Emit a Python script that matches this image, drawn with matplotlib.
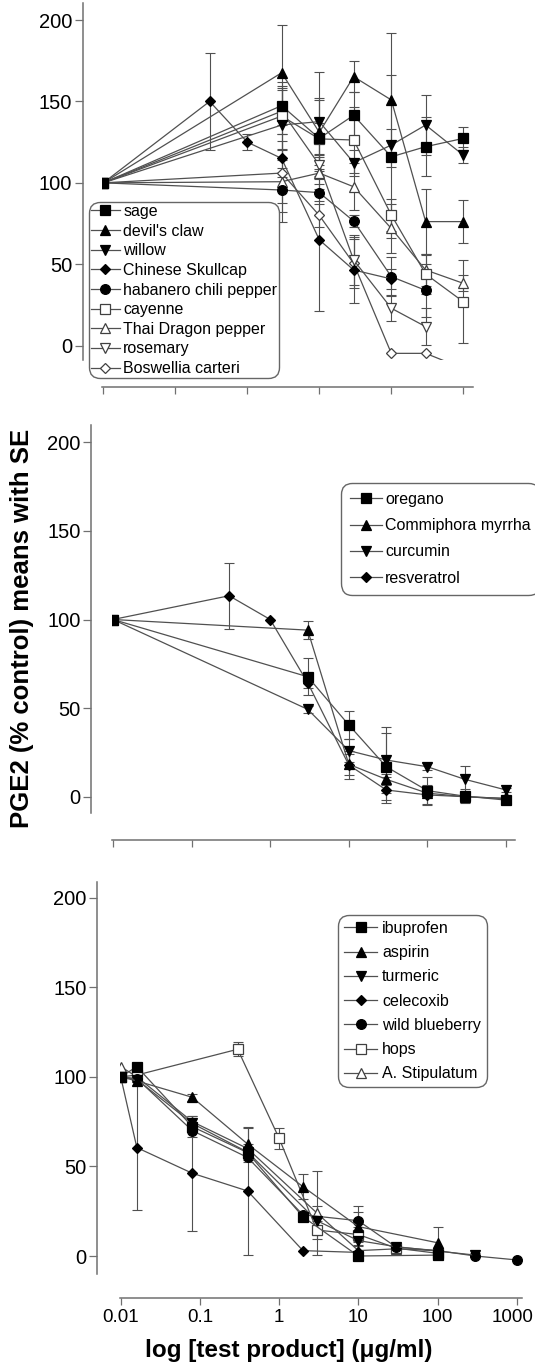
import numpy as np
import matplotlib.pyplot as plt
from matplotlib.ticker import FixedLocator, NullLocator, NullFormatter
from matplotlib.transforms import ScaledTranslation

plt.rcParams['font.family'] = ['Liberation Sans', 'DejaVu Sans']

nan = np.nan

# ---- panel 1: herbs and peppers
conc1 = [0.01, 0.3, 1, 3, 10, 30, 100, 300, 1000]
names1 = ['sage', "devil's claw", 'willow', 'Chinese Skullcap', 'habanero chili pepper',
          'cayenne', 'Thai Dragon pepper', 'rosemary', 'Boswellia carteri']
mean1 = [
    [100, nan, nan, 147.4, 127.3, 141.5, 116.0, 122.2, 127.3],
    [100, nan, nan, 167.6, 131.0, 165.2, 150.9, 76.2, 76.2],
    [100, nan, nan, 135.5, 137.6, 112.4, 123.2, 135.5, 117.0],
    [100, 150.0, 125.0, 115.0, 65.0, 46.5, 41.0, nan, nan],
    [100, nan, nan, 95.6, 94.0, 76.5, 42.4, 34.0, nan],
    [100, nan, nan, 141.0, 127.0, 126.3, 80.3, 44.0, 27.0],
    [100, nan, nan, 100.7, 106.0, 97.6, 72.0, 46.5, 38.3],
    [100, nan, nan, 144.0, 111.0, 52.6, 23.0, 11.7, nan],
    [100, nan, nan, 106.0, 80.0, 50.5, -4.7, -4.7, -14.0],
]
se1 = [
    [nan, nan, nan, 12, 25, 14, 50, 18, 7],
    [nan, nan, nan, 29.3, 20, 9.6, 41, 20, 13.3],
    [nan, nan, nan, 21.5, 30.4, 8, 10, 18.5, 5],
    [nan, 29.6, 5, 6, 43.7, 20, 6, nan, nan],
    [nan, nan, nan, 8, 5, 3.8, 12, 16.4, nan],
    [nan, nan, nan, 21, 10, 20, 10, 12, 25.5],
    [nan, nan, nan, 25, 10, 14.3, 15, 10, 5],
    [nan, nan, nan, 14, 7, 15.4, 8, 11.3, nan],
    [nan, nan, nan, 24, 7, 15, nan, nan, nan],
]

# ---- panel 2: oregano and friends
conc2 = [0.01, 0.3, 1, 3, 10, 30, 100, 300, 1000]
names2 = ['oregano', 'Commiphora myrrha', 'curcumin', 'resveratrol']
mean2 = [
    [100, nan, nan, 67.7, 40.5, 16.9, 3.4, 0.3, -1.9],
    [100, nan, nan, 94.0, 18.3, 9.8, 2.0, 0.0, -1.0],
    [100, nan, nan, 49.3, 26.0, 20.7, 16.9, 9.8, 3.8],
    [100, 113.4, 100.0, 64.3, 17.9, 3.8, 1.0, 0.0, -1.0],
]
se2 = [
    [nan, nan, nan, 10.4, 8, 19, 7.5, 4, 1],
    [nan, nan, nan, 5, 6, 3, 2, 1, 1],
    [nan, nan, nan, 2, 6.4, 18.5, 2, 7.5, 1],
    [nan, 18.5, nan, 3, 8, 7.5, 5.7, 1, 1],
]

# ---- panel 3: drugs and references
conc3 = [0.01, 0.016, 0.08, 0.3, 0.4, 1, 2, 3, 10, 30, 100, 300, 1000]
names3 = ['ibuprofen', 'aspirin', 'turmeric', 'celecoxib', 'wild blueberry', 'hops', 'A. Stipulatum']
mean3 = [
    [100, 105.7, 72.2, nan, 57.7, nan, 21.9, nan, 0.0, nan, 0.5, nan, nan],
    [100, 97.7, 88.6, nan, 62.5, nan, 38.7, nan, 16.4, nan, 7.4, nan, nan],
    [100, 98.5, 74.0, nan, 58.0, nan, nan, 19.7, 8.6, 5.2, nan, 0.5, nan],
    [100, 60.5, 46.2, nan, 36.3, nan, 3.0, nan, 2.0, nan, nan, nan, nan],
    [100, 99.0, 70.0, nan, 55.0, nan, 23.0, nan, 19.7, 5.0, 3.0, 0.0, -2.2],
    [100, 101.0, nan, 115.4, nan, 65.7, nan, 14.5, 12.0, 4.4, 1.5, nan, nan],
    [105.7, 100.0, 75.0, nan, 60.0, nan, nan, 24.0, 3.0, 4.0, 3.0, nan, nan],
]
se3 = [
    [nan, nan, 6, nan, 5, nan, 2, nan, 1, nan, 1, nan, nan],
    [nan, nan, 2, nan, 9, nan, 7, nan, 8, nan, 9, nan, nan],
    [nan, nan, nan, nan, nan, nan, nan, 8, 3, 2, nan, 1, nan],
    [nan, 35, 32, nan, 35.7, nan, nan, nan, nan, nan, nan, nan, nan],
    [nan, nan, nan, nan, nan, nan, nan, nan, 8, 2, nan, nan, nan],
    [nan, nan, nan, 4, nan, 6, nan, 5, 4, 2, nan, nan, nan],
    [nan, nan, nan, nan, nan, nan, nan, 23.4, 3, nan, nan, nan, nan],
]

styles1 = [('s', True), ('^', True), ('v', True), ('D', True), ('o', True),
           ('s', False), ('^', False), ('v', False), ('D', False)]
styles2 = [('s', True), ('^', True), ('v', True), ('D', True)]
styles3 = [('s', True), ('^', True), ('v', True), ('D', True), ('o', True),
           ('s', False), ('^', False)]

msize = {'s': 6.8, '^': 7.8, 'v': 7.8, 'D': 5.4, 'o': 7.0}
LINE = '#505050'
AXC = '#707070'
LEGFONT = 11.5

W, H = 535, 1365
fig = plt.figure(figsize=(W / 100, H / 100), dpi=100)


def make_axes(x0, x1, y0, y1, yspine_x, xspine_y, x01, decade, y200, y0px):
    # pixel geometry -> figure fractions and limits
    ax = fig.add_axes([x0 / W, 1 - y1 / H, (x1 - x0) / W, (y1 - y0) / H])
    ax.set_xscale('log')
    ax.set_xlim(10 ** (-2 - (x01 - x0) / decade), 10 ** (-2 + (x1 - x01) / decade))
    ppu = (y0px - y200) / 200
    ax.set_ylim(-(y1 - y0px) / ppu, 200 + (y200 - y0) / ppu)
    for s in ['top', 'right']:
        ax.spines[s].set_visible(False)
    ax.spines['left'].set_position(('outward', (x0 - yspine_x) * 0.72))
    ax.spines['bottom'].set_position(('outward', (xspine_y - y1) * 0.72))
    for s in ['left', 'bottom']:
        ax.spines[s].set_color(AXC)
        ax.spines[s].set_linewidth(1.1)
    ax.yaxis.set_major_locator(FixedLocator([0, 50, 100, 150, 200]))
    ax.xaxis.set_major_locator(FixedLocator([0.01, 0.1, 1, 10, 100, 1000]))
    ax.xaxis.set_minor_locator(NullLocator())
    ax.xaxis.set_minor_formatter(NullFormatter())
    ax.tick_params(axis='y', length=6, width=0.9, color=AXC, labelsize=14.5, pad=1.5)
    ax.tick_params(axis='x', length=5, width=0.9, color=AXC, labelsize=13.5, pad=3)
    ax.set_xticklabels(['0.01', '0.1', '1', '10', '100', '1000'])
    ax.patch.set_visible(False)
    return ax


def draw(ax, conc, means, ses, styles, names):
    handles = []
    n = len(means)
    for i, (m, e, (mk, filled), name) in enumerate(zip(means, ses, styles, names)):
        x = np.array(conc, float)
        y = np.array(m, float)
        err = np.array(e, float)
        ok = ~np.isnan(y)
        eok = ok & ~np.isnan(err)
        if eok.any():
            ax.errorbar(x[eok], y[eok], yerr=err[eok], fmt='none', ecolor=LINE,
                        elinewidth=0.8, capsize=3.3, capthick=0.8, zorder=1)
        if filled:
            fc, ec = 'black', 'black'
        else:
            fc, ec = 'white', '#404040'
        # first series on top, as in the original
        h, = ax.plot(x[ok], y[ok], color=LINE, lw=0.9, marker=mk, ms=msize[mk],
                     mfc=fc, mec=ec, mew=0.9, zorder=3 + (n - i) * 0.01, label=name)
        handles.append(h)
    return handles


def add_legend(ax, handles, anchor, spacing, bpad, hlen, tpad):
    leg = ax.legend(handles=handles, loc='upper left', bbox_to_anchor=anchor,
                    borderaxespad=0, fontsize=LEGFONT, frameon=True, fancybox=True,
                    labelspacing=spacing, borderpad=bpad, handlelength=hlen,
                    handletextpad=tpad, numpoints=1, framealpha=1)
    fr = leg.get_frame()
    fr.set_edgecolor('#666666')
    fr.set_linewidth(1.0)
    fr.set_boxstyle('round,pad=0,rounding_size=0.7')
    leg.set_zorder(5)
    return leg


# panel 1
ax1 = make_axes(102, 473, 3, 360, 82.7, 386.7, 103.3, 72.0, 20.0, 345.7)
h1 = draw(ax1, conc1, mean1, se1, styles1, names1)
ax1.set_xticklabels([])
add_legend(ax1, h1, ((88.5 - 102) / 371, (360 - 202) / 357), 0.29, 0.13, 1.82, 0.22)

# panel 2
ax2 = make_axes(112, 515, 425, 813, 91, 840, 113.0, 78.6, 442.3, 796.7)
h2 = draw(ax2, conc2, mean2, se2, styles2, names2)
ax2.set_xticklabels([])
add_legend(ax2, h2, ((341 - 112) / 403, (813 - 483) / 388), 0.71, 0.55, 2.0, 0.22)

# panel 3
ax3 = make_axes(119.5, 522, 881.7, 1274, 97, 1298.3, 120.7, 79.2, 897.7, 1256)
h3 = draw(ax3, conc3, mean3, se3, styles3, names3)
add_legend(ax3, h3, ((338 - 119.5) / 402.5, (1274 - 915) / 392.3), 0.58, 0.37, 2.1, 0.3)
# keep "1000" inside the picture
last = ax3.get_xticklabels()[-1]
last.set_transform(last.get_transform() + ScaledTranslation(-0.04, 0, fig.dpi_scale_trans))

fig.text(22 / W, 1 - 628 / H, 'PGE2 (% control) means with SE', rotation=90,
         ha='center', va='center', fontsize=18.5, fontweight='bold')
fig.text(289 / W, 1 - 1350 / H, 'log [test product] (\u03bcg/ml)',
         ha='center', va='center', fontsize=17.5, fontweight='bold')

fig.savefig('out.png', dpi=100)
